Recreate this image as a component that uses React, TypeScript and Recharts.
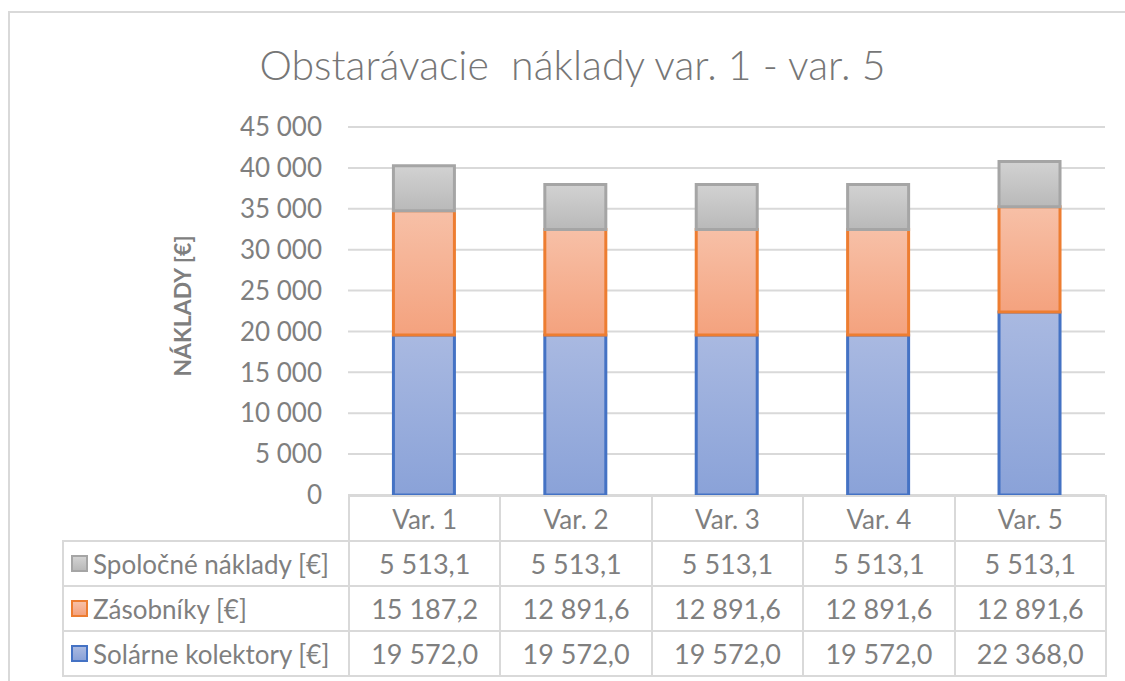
import React from "react";
import { Bar, BarChart, CartesianGrid, Label, XAxis, YAxis } from "recharts";

const categories = ["Var. 1", "Var. 2", "Var. 3", "Var. 4", "Var. 5"];
const solarCollectors = [19572.0, 19572.0, 19572.0, 19572.0, 22368.0];
const storageTanks = [15187.2, 12891.6, 12891.6, 12891.6, 12891.6];
const commonCosts = [5513.1, 5513.1, 5513.1, 5513.1, 5513.1];
const yTicks = [0, 5000, 10000, 15000, 20000, 25000, 30000, 35000, 40000, 45000];

const seriesNames = {
  solar: "Solárne kolektory [€]",
  tanks: "Zásobníky [€]",
  common: "Spoločné náklady [€]",
};

const FONT = "Lato, 'Open Sans', sans-serif";
const TEXT = "#7f7f7f";
const GRID = "#d9d9d9";

const W = 1125;
const H = 681;
const PLOT_LEFT = 348;
const PLOT_RIGHT = 1105;
const PLOT_TOP = 127;
const PLOT_BOTTOM = 495;
const ROW_H = 45;
const TABLE_LEFT = 62;

const data = categories.map((name, i) => ({
  name,
  solar: solarCollectors[i],
  tanks: storageTanks[i],
  common: commonCosts[i],
}));

// table rows top to bottom, as in the Excel data table
const tableRows = [
  { key: "common", label: seriesNames.common, values: commonCosts, stroke: "#a5a5a5", top: "#d2d2d2", bottom: "#b9b9b9" },
  { key: "tanks", label: seriesNames.tanks, values: storageTanks, stroke: "#ed7d31", top: "#f7c0a7", bottom: "#f4a27e" },
  { key: "solar", label: seriesNames.solar, values: solarCollectors, stroke: "#4472c4", top: "#a9b9e1", bottom: "#8aa2d8" },
];

const sep = "\u00a0";

function fmtTick(v: number) {
  return String(v).replace(/\B(?=(\d{3})+(?!\d))/g, sep);
}

function fmtCell(v: number) {
  const [int, dec] = v.toFixed(1).split(".");
  return int.replace(/\B(?=(\d{3})+(?!\d))/g, sep) + "," + dec;
}

function Cell({ x, y, w, h, children, align = "center", size = 27 }: any) {
  return (
    <div
      style={{
        position: "absolute",
        left: x,
        top: y,
        width: w + 2,
        height: h + 2,
        boxSizing: "border-box",
        border: `2px solid ${GRID}`,
        display: "flex",
        alignItems: "center",
        justifyContent: align === "left" ? "flex-start" : "center",
        paddingLeft: align === "left" ? 7 : 0,
        fontSize: size,
        color: TEXT,
        whiteSpace: "nowrap",
      }}
    >
      {children}
    </div>
  );
}

function DataTable() {
  const band = (PLOT_RIGHT - PLOT_LEFT) / categories.length;
  return (
    <>
      {categories.map((c, i) => (
        <Cell key={c} x={PLOT_LEFT + i * band} y={PLOT_BOTTOM} w={band} h={ROW_H} size={26}>
          {c}
        </Cell>
      ))}
      {tableRows.map((r, ri) => {
        const y = PLOT_BOTTOM + ROW_H * (ri + 1);
        return (
          <React.Fragment key={r.key}>
            <Cell x={TABLE_LEFT} y={y} w={PLOT_LEFT - TABLE_LEFT} h={ROW_H} align="left" size={26}>
              <span
                style={{
                  display: "inline-block",
                  width: 17,
                  height: 17,
                  boxSizing: "border-box",
                  border: `2px solid ${r.stroke}`,
                  background: `linear-gradient(${r.top}, ${r.bottom})`,
                  marginRight: 5,
                }}
              />
              {r.label}
            </Cell>
            {r.values.map((v, i) => (
              <Cell key={i} x={PLOT_LEFT + i * band} y={y} w={band} h={ROW_H}>
                {fmtCell(v)}
              </Cell>
            ))}
          </React.Fragment>
        );
      })}
    </>
  );
}

export default function App() {
  return (
    <div
      style={{
        position: "absolute",
        left: 0,
        top: 0,
        width: W,
        height: H,
        overflow: "hidden",
        background: "#fff",
        fontFamily: FONT,
      }}
    >
      <div
        style={{
          position: "absolute",
          left: 8,
          top: 11,
          width: W + 100,
          height: H + 100,
          border: `2px solid ${GRID}`,
        }}
      />
      <div
        style={{
          position: "absolute",
          left: 10,
          top: 40,
          width: W,
          textAlign: "center",
          fontSize: 41,
          fontWeight: 300,
          color: "#767676",
          whiteSpace: "pre",
        }}
      >
        {"Obstarávacie  náklady var. 1 - var. 5"}
      </div>
      <div style={{ position: "absolute", left: 0, top: 0 }}>
        <BarChart
          width={W}
          height={H}
          data={data}
          margin={{ top: PLOT_TOP, right: W - PLOT_RIGHT, bottom: H - PLOT_BOTTOM, left: 0 }}
          barCategoryGap="30%"
          style={{ fontFamily: FONT }}
        >
          <defs>
            {tableRows.map((r) => (
              <linearGradient key={r.key} id={`grad-${r.key}`} x1="0" y1="0" x2="0" y2="1">
                <stop offset="0%" stopColor={r.top} />
                <stop offset="100%" stopColor={r.bottom} />
              </linearGradient>
            ))}
          </defs>
          <CartesianGrid vertical={false} stroke={GRID} strokeWidth={2} />
          <XAxis dataKey="name" hide />
          <YAxis
            width={PLOT_LEFT}
            domain={[0, 45000]}
            ticks={yTicks}
            axisLine={false}
            tickLine={false}
            tickMargin={20}
            tickFormatter={fmtTick}
            tick={{ fill: TEXT, fontSize: 26 }}
          >
            <Label
              content={({ viewBox }: any) => {
                const cy = viewBox.y + viewBox.height / 2 - 5;
                return (
                  <text
                    x={182}
                    y={cy}
                    transform={`rotate(-90 182 ${cy})`}
                    textAnchor="middle"
                    dominantBaseline="central"
                    fill={TEXT}
                    fontSize={23}
                    fontWeight={700}
                    fontFamily={FONT}
                  >
                    NÁKLADY [€]
                  </text>
                );
              }}
            />
          </YAxis>
          <Bar dataKey="solar" name={seriesNames.solar} stackId="a" fill="url(#grad-solar)" stroke="#4472c4" strokeWidth={3} isAnimationActive={false} />
          <Bar dataKey="tanks" name={seriesNames.tanks} stackId="a" fill="url(#grad-tanks)" stroke="#ed7d31" strokeWidth={3} isAnimationActive={false} />
          <Bar dataKey="common" name={seriesNames.common} stackId="a" fill="url(#grad-common)" stroke="#a5a5a5" strokeWidth={3} isAnimationActive={false} />
        </BarChart>
      </div>
      <DataTable />
    </div>
  );
}
